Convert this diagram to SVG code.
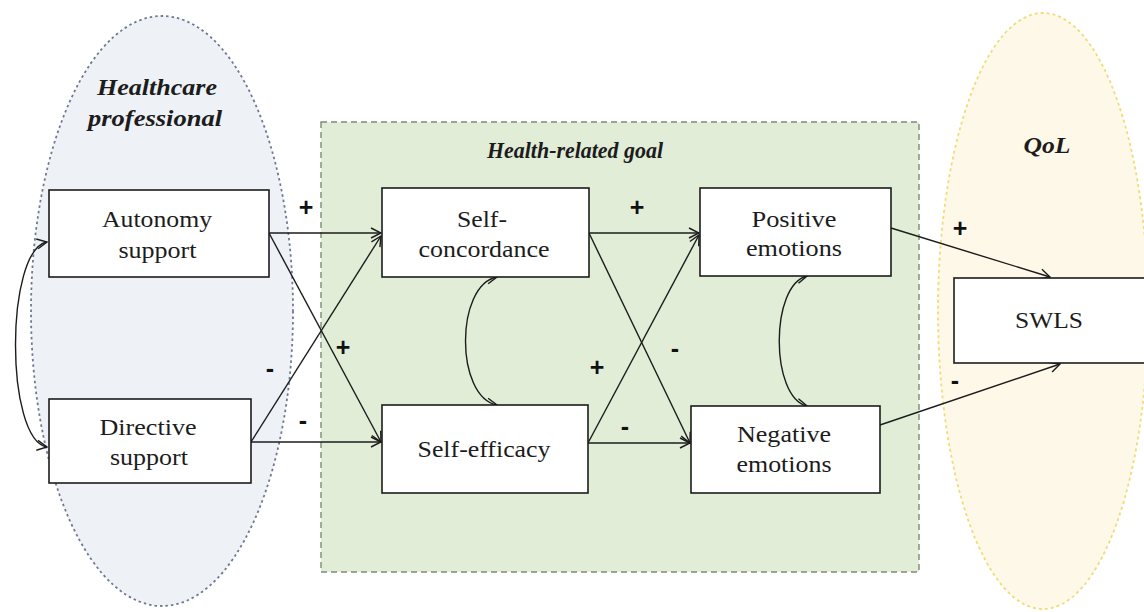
<svg xmlns="http://www.w3.org/2000/svg" width="1144" height="612" viewBox="0 0 1144 612">
<style>
.box{fill:#ffffff;stroke:#1c1c1c;stroke-width:1.6}
.t{font-size:23px;fill:#1c1c1c;text-anchor:middle}
.h{font-size:23px;font-weight:bold;font-style:italic;fill:#1c1c1c;text-anchor:middle}
.s{font-size:25px;font-weight:bold;fill:#111;text-anchor:middle}
.c{stroke:#1c1c1c;stroke-width:1.4;fill:none}
</style>
<defs>
<marker id="ah" viewBox="0 0 12 12" refX="11" refY="6" markerWidth="12" markerHeight="12" markerUnits="userSpaceOnUse" orient="auto-start-reverse">
<path d="M1,1 L11,6 L1,11" fill="none" stroke="#1c1c1c" stroke-width="1.4"/>
</marker>
</defs>
<rect width="1144" height="612" fill="#ffffff"/>
<g font-family="Liberation Serif, Times New Roman, serif">
<g id="group-healthcare">
<ellipse cx="162" cy="311" rx="131" ry="295" fill="#eef1f6" stroke="#6d7a92" stroke-width="1.8" stroke-dasharray="2.5,3"/>
<text class="h" x="157" y="95" textLength="120" lengthAdjust="spacingAndGlyphs">Healthcare</text>
<text class="h" x="155" y="126" textLength="134" lengthAdjust="spacingAndGlyphs">professional</text>
</g>
<g id="group-goal">
<rect x="321" y="122" width="598" height="450" fill="#e2edd8" stroke="#7d8a78" stroke-width="1.4" stroke-dasharray="6,4"/>
<text class="h" x="575" y="158" textLength="176" lengthAdjust="spacingAndGlyphs">Health-related goal</text>
</g>
<g id="group-qol">
<ellipse cx="1043" cy="311" rx="105" ry="298" fill="#fef8e8" stroke="#f0dc78" stroke-width="1.8" stroke-dasharray="3,3"/>
<text class="h" x="1047" y="153" textLength="47" lengthAdjust="spacingAndGlyphs">QoL</text>
</g>
<g id="connectors">
<path class="c" d="M47,242 C5,250 5,440 47,447" marker-start="url(#ah)" marker-end="url(#ah)"/>
<line class="c" x1="269" y1="233" x2="381" y2="233" marker-end="url(#ah)"/>
<line class="c" x1="269" y1="233" x2="381" y2="442" marker-end="url(#ah)"/>
<line class="c" x1="251" y1="442" x2="381" y2="236" marker-end="url(#ah)"/>
<line class="c" x1="251" y1="442" x2="381" y2="442" marker-end="url(#ah)"/>
<path class="c" d="M497,277 C455,285 455,397 497,405" marker-start="url(#ah)" marker-end="url(#ah)"/>
<line class="c" x1="589" y1="233" x2="699" y2="233" marker-end="url(#ah)"/>
<line class="c" x1="589" y1="233" x2="690" y2="443" marker-end="url(#ah)"/>
<line class="c" x1="588" y1="443" x2="699" y2="235" marker-end="url(#ah)"/>
<line class="c" x1="588" y1="443" x2="690" y2="443" marker-end="url(#ah)"/>
<path class="c" d="M807,276 C770,285 770,397 807,406" marker-start="url(#ah)" marker-end="url(#ah)"/>
<line class="c" x1="891" y1="228" x2="1050" y2="277" marker-end="url(#ah)"/>
<line class="c" x1="880" y1="425" x2="1060" y2="364" marker-end="url(#ah)"/>
</g>
<g id="signs" font-family="Liberation Sans, Arial, sans-serif">
<text class="s" x="306" y="216">+</text>
<text class="s" x="343" y="356">+</text>
<text class="s" x="270" y="377">-</text>
<text class="s" x="303" y="429">-</text>
<text class="s" x="637" y="216">+</text>
<text class="s" x="675" y="357">-</text>
<text class="s" x="597" y="376">+</text>
<text class="s" x="625" y="435">-</text>
<text class="s" x="960" y="237">+</text>
<text class="s" x="955" y="389">-</text>
</g>
<g id="node-autonomy">
<rect class="box" x="49" y="190" width="220" height="87"/>
<text class="t" x="157" y="227" textLength="110" lengthAdjust="spacingAndGlyphs">Autonomy</text>
<text class="t" x="157.5" y="258" textLength="78" lengthAdjust="spacingAndGlyphs">support</text>
</g>
<g id="node-directive">
<rect class="box" x="49" y="399" width="202" height="84"/>
<text class="t" x="148" y="435" textLength="97" lengthAdjust="spacingAndGlyphs">Directive</text>
<text class="t" x="149" y="465" textLength="78" lengthAdjust="spacingAndGlyphs">support</text>
</g>
<g id="node-selfconcordance">
<rect class="box" x="382" y="188" width="207" height="89"/>
<text class="t" x="482" y="227" textLength="50" lengthAdjust="spacingAndGlyphs">Self-</text>
<text class="t" x="484" y="257" textLength="131" lengthAdjust="spacingAndGlyphs">concordance</text>
</g>
<g id="node-selfefficacy">
<rect class="box" x="382" y="405" width="206" height="88"/>
<text class="t" x="484" y="457" textLength="133" lengthAdjust="spacingAndGlyphs">Self-efficacy</text>
</g>
<g id="node-positive">
<rect class="box" x="700" y="188" width="191" height="88"/>
<text class="t" x="794" y="227" textLength="85" lengthAdjust="spacingAndGlyphs">Positive</text>
<text class="t" x="794" y="256" textLength="96" lengthAdjust="spacingAndGlyphs">emotions</text>
</g>
<g id="node-negative">
<rect class="box" x="691" y="406" width="189" height="87"/>
<text class="t" x="784" y="442" textLength="94" lengthAdjust="spacingAndGlyphs">Negative</text>
<text class="t" x="784" y="472" textLength="95" lengthAdjust="spacingAndGlyphs">emotions</text>
</g>
<g id="node-swls">
<rect class="box" x="954" y="278" width="200" height="85"/>
<text class="t" x="1049" y="328" textLength="68" lengthAdjust="spacingAndGlyphs">SWLS</text>
</g>
</g>
</svg>
